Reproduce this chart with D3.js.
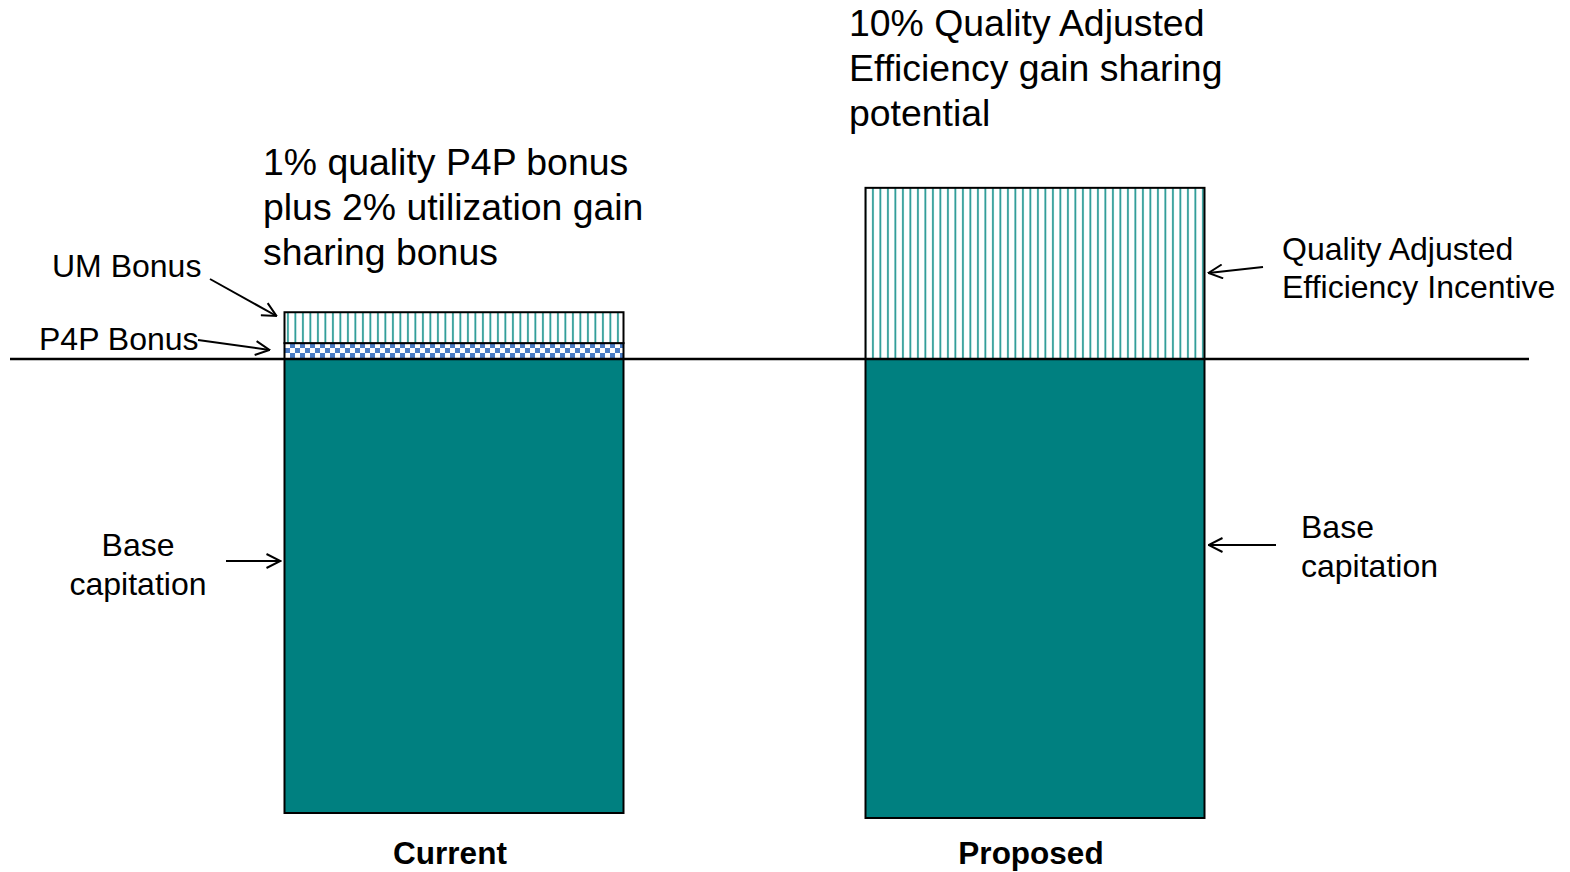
<!DOCTYPE html>
<html>
<head>
<meta charset="utf-8">
<script src="https://cdn.jsdelivr.net/npm/d3@7"></script>
<style>
  html, body { margin: 0; padding: 0; background: #fff; }
  svg { display: block; font-family: "Liberation Sans", Arial, sans-serif; }
</style>
</head>
<body>
<svg id="chart"></svg>
<script>
// chart values (not to scale in the original slide)
const bars = ['Current', 'Proposed'];
const baseCapitation = [100, 101.1];
const p4pBonus = [3.5, 0];
const umBonus = [6.8, 0];
const efficiencyIncentive = [0, 37.7];

const topNotes = [
  ['1% quality P4P bonus', 'plus 2% utilization gain', 'sharing bonus'],
  ['10% Quality Adjusted', 'Efficiency gain sharing', 'potential']
];

const width = 1570;
const height = 872;

const svg = d3.select('#chart')
  .attr('width', width)
  .attr('height', height)
  .attr('viewBox', `0 0 ${width} ${height}`);

// centres of the two bars sit at about 454 and 1035
const x = d3.scaleBand()
  .domain(bars)
  .range([284.5, 284.5 + 581 + 339])
  .paddingInner(1 - 339 / 581)
  .paddingOuter(0);

// positive values rise above the baseline, base capitation hangs below it
const y = d3.scaleLinear().domain([0, -100]).range([359, 813]);

const teal = '#008080';

// patterns
const defs = svg.append('defs');

const stripes = defs.append('pattern')
  .attr('id', 'stripes')
  .attr('patternUnits', 'userSpaceOnUse')
  .attr('width', 7.5)
  .attr('height', 10);
stripes.append('rect').attr('width', 7.5).attr('height', 10).attr('fill', '#fff');
stripes.append('rect').attr('x', 2).attr('width', 1.8).attr('height', 10).attr('fill', '#2a9a95');

const checks = defs.append('pattern')
  .attr('id', 'checks')
  .attr('patternUnits', 'userSpaceOnUse')
  .attr('x', 0)
  .attr('y', 343)
  .attr('width', 10)
  .attr('height', 10);
checks.append('rect').attr('width', 10).attr('height', 10).attr('fill', '#fff');
checks.append('rect').attr('width', 5).attr('height', 5).attr('fill', '#4a7cc4');
checks.append('rect').attr('x', 5).attr('y', 5).attr('width', 5).attr('height', 5).attr('fill', '#4a7cc4');

defs.append('marker')
  .attr('id', 'arrow')
  .attr('viewBox', '0 0 16 16')
  .attr('refX', 15)
  .attr('refY', 8)
  .attr('markerWidth', 16)
  .attr('markerHeight', 16)
  .attr('markerUnits', 'userSpaceOnUse')
  .attr('orient', 'auto')
  .append('path')
  .attr('d', 'M1,1 L15,8 L1,15')
  .attr('fill', 'none')
  .attr('stroke', '#000')
  .attr('stroke-width', 2);

// build stacked segments
const segments = [];
bars.forEach((b, i) => {
  segments.push({ bar: b, y0: 0, y1: -baseCapitation[i], fill: teal });
  let top = 0;
  if (p4pBonus[i] > 0) {
    segments.push({ bar: b, y0: top, y1: top + p4pBonus[i], fill: 'url(#checks)' });
    top += p4pBonus[i];
  }
  if (umBonus[i] > 0) {
    segments.push({ bar: b, y0: top, y1: top + umBonus[i], fill: 'url(#stripes)' });
    top += umBonus[i];
  }
  if (efficiencyIncentive[i] > 0) {
    segments.push({ bar: b, y0: top, y1: top + efficiencyIncentive[i], fill: 'url(#stripes)' });
    top += efficiencyIncentive[i];
  }
});

svg.append('g')
  .selectAll('rect')
  .data(segments)
  .join('rect')
  .attr('x', d => x(d.bar))
  .attr('width', x.bandwidth())
  .attr('y', d => Math.min(y(d.y0), y(d.y1)))
  .attr('height', d => Math.abs(y(d.y1) - y(d.y0)))
  .attr('fill', d => d.fill)
  .attr('stroke', '#000')
  .attr('stroke-width', 2);

// baseline
svg.append('line')
  .attr('x1', 10)
  .attr('x2', 1529)
  .attr('y1', y(0))
  .attr('y2', y(0))
  .attr('stroke', '#000')
  .attr('stroke-width', 2.6);

// category labels
svg.append('g')
  .selectAll('text')
  .data(bars)
  .join('text')
  .attr('x', d => x(d) + x.bandwidth() / 2 - 4)
  .attr('y', 864)
  .attr('text-anchor', 'middle')
  .attr('font-size', 31.5)
  .attr('font-weight', 'bold')
  .text(d => d);

// top notes
const noteX = [263, 849];
const noteY = [175, 36];
topNotes.forEach((lines, i) => {
  svg.append('text')
    .attr('font-size', 37.4)
    .attr('fill', '#000')
    .selectAll('tspan')
    .data(lines)
    .join('tspan')
    .attr('x', noteX[i])
    .attr('y', (d, j) => noteY[i] + j * 45)
    .text(d => d);
});

// side annotations
const cur = bars[0];
const prop = bars[1];
const curLeft = x(cur);
const propRight = x(prop) + x.bandwidth();

function label(lines, lx, ly, anchor, gap) {
  svg.append('text')
    .attr('font-size', 32)
    .attr('text-anchor', anchor)
    .selectAll('tspan')
    .data(lines)
    .join('tspan')
    .attr('x', lx)
    .attr('y', (d, j) => ly + j * gap)
    .text(d => d);
}

function arrow(x1, y1, x2, y2) {
  svg.append('line')
    .attr('x1', x1).attr('y1', y1)
    .attr('x2', x2).attr('y2', y2)
    .attr('stroke', '#000')
    .attr('stroke-width', 2)
    .attr('marker-end', 'url(#arrow)');
}

label(['UM Bonus'], 52, 277, 'start', 0);
arrow(210, 279, curLeft - 8, 316);

label(['P4P Bonus'], 39, 350, 'start', 0);
arrow(198, 340, curLeft - 15, 350);

label(['Base', 'capitation'], 138, 556, 'middle', 39);
arrow(226, 561, curLeft - 4, 561);

label(['Quality Adjusted', 'Efficiency Incentive'], 1282, 260, 'start', 38);
arrow(1263, 267, propRight + 4, 273);

label(['Base', 'capitation'], 1301, 538, 'start', 39);
arrow(1276, 545, propRight + 4, 545);
</script>
</body>
</html>
